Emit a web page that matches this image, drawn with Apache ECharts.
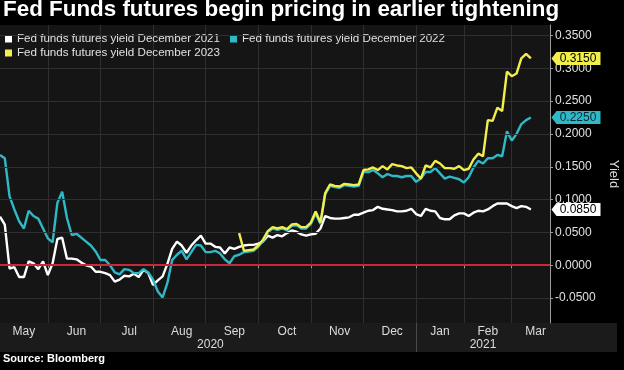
<!DOCTYPE html>
<html>
<head>
<meta charset="utf-8">
<script src="https://cdn.jsdelivr.net/npm/echarts@6/dist/echarts.min.js"></script>
<style>
html,body{margin:0;padding:0;background:#000;}
#chart{width:624px;height:370px;}
</style>
</head>
<body>
<div id="chart"></div>
<script>
// ---- data ----
const titleText = 'Fed Funds futures begin pricing in earlier tightening';
const seriesNames = [
  'Fed funds futures yield December 2021',
  'Fed funds futures yield December 2022',
  'Fed funds futures yield December 2023'
];
const months = ['May','Jun','Jul','Aug','Sep','Oct','Nov','Dec','Jan','Feb','Mar'];
const samplesPerMonth = [10,11,11,11,11,11,11,11,10,10,9];
const yearLabels = ['2020','2021'];
const yearFirstMonth = ['May','Jan'];
const yTicks = [-0.05, 0, 0.05, 0.10, 0.15, 0.20, 0.25, 0.30, 0.35];

const dec2021 = [0.074,0.062,-0.005,-0.003,-0.018,-0.018,0.006,0.003,-0.006,0.006,
 -0.015,0.003,0.040,0.042,0.010,0.010,0.009,0.004,0.000,-0.002,
 -0.010,-0.010,-0.012,-0.015,-0.025,-0.022,-0.016,-0.017,-0.013,-0.018,
 -0.007,-0.012,-0.030,-0.023,-0.017,0.002,0.025,0.036,0.030,0.019,
 0.030,0.038,0.045,0.033,0.033,0.028,0.027,0.018,0.027,0.025,
 0.028,0.030,0.031,0.031,0.033,0.036,0.045,0.042,0.046,0.044,
 0.049,0.053,0.051,0.047,0.045,0.047,0.048,0.056,0.075,0.072,
 0.071,0.071,0.072,0.073,0.077,0.077,0.080,0.083,0.084,0.089,
 0.086,0.085,0.084,0.082,0.082,0.083,0.086,0.078,0.075,0.086,
 0.083,0.082,0.072,0.070,0.070,0.076,0.079,0.079,0.075,0.080,
 0.083,0.082,0.085,0.090,0.094,0.094,0.094,0.090,0.087,0.090,
 0.089,0.085];
const dec2022 = [0.168,0.163,0.105,0.085,0.067,0.056,0.083,0.075,0.071,0.056,
 0.041,0.035,0.095,0.112,0.072,0.046,0.048,0.042,0.036,0.030,
 0.021,0.008,0.008,0.000,-0.011,-0.014,-0.006,-0.007,-0.012,-0.012,
 -0.006,-0.011,-0.022,-0.040,-0.049,-0.027,0.008,0.016,0.022,0.009,
 0.020,0.031,0.030,0.020,0.020,0.022,0.018,0.009,0.003,0.014,
 0.016,0.020,0.021,0.022,0.028,0.037,0.050,0.056,0.054,0.056,
 0.053,0.060,0.061,0.056,0.056,0.063,0.079,0.063,0.108,0.121,
 0.119,0.118,0.122,0.121,0.120,0.121,0.142,0.142,0.145,0.140,
 0.134,0.139,0.136,0.136,0.134,0.136,0.136,0.127,0.132,0.142,
 0.142,0.148,0.140,0.132,0.135,0.133,0.131,0.126,0.134,0.149,
 0.159,0.155,0.163,0.163,0.168,0.166,0.204,0.190,0.200,0.215,
 0.221,0.225];
const dec2023Start = 'Sep 8';
const dec2023 = [0.049,0.022,0.023,0.024,0.030,0.039,0.052,0.058,0.056,0.058,
 0.055,0.062,0.063,0.058,0.058,0.065,0.082,0.065,0.110,0.123,
 0.121,0.120,0.124,0.123,0.122,0.123,0.145,0.146,0.149,0.145,
 0.151,0.146,0.154,0.152,0.151,0.148,0.149,0.140,0.132,0.152,
 0.149,0.159,0.155,0.148,0.148,0.147,0.151,0.145,0.147,0.161,
 0.170,0.166,0.221,0.220,0.240,0.235,0.295,0.288,0.292,0.315,
 0.322,0.315];

// ---- derived axis helpers ----
const categories = [];
const monthStart = [];
const monthLabelIdx = [];
months.forEach((m, mi) => {
  monthStart.push(categories.length);
  monthLabelIdx.push(categories.length + Math.round(samplesPerMonth[mi] / 2));
  for (let k = 0; k < samplesPerMonth[mi]; k++) categories.push(m + ' ' + (k + 1));
});
const lastIdx = categories.length - 1;
const yearStartIdx = yearFirstMonth.map(m => monthStart[months.indexOf(m)]);
const yearCenterIdx = yearStartIdx.map((s, i) => {
  const e = i + 1 < yearStartIdx.length ? yearStartIdx[i + 1] : lastIdx;
  return Math.round((s + e) / 2);
});
const yearDivider = yearStartIdx.slice(1);
const start2023 = categories.indexOf(dec2023Start);
const dec2023Data = dec2023.map((v, k) => [start2023 + k, v]);

const colors = ['#ffffff', '#2fb9c6', '#f2ee4c'];
const tagTextColors = ['#000000', '#0b2a33', '#000000'];
const FONT = 'Liberation Sans';
const tagPath = 'path://M0,6.5 L5,0 L49,0 L49,13 L5,13 Z';

function tag(i, val) {
  return {
    symbol: tagPath,
    symbolSize: [49, 13],
    symbolKeepAspect: false,
    symbolOffset: [26, 0],
    silent: true,
    itemStyle: { color: colors[i] },
    label: {
      show: true, position: 'inside', offset: [2, 0],
      color: tagTextColors[i], fontSize: 12, fontFamily: FONT,
      formatter: () => val.toFixed(4)
    },
    data: [{ coord: [lastIdx, val], value: val }]
  };
}

function lineSeries(i, data, lastVal) {
  return {
    name: seriesNames[i], type: 'line', data: data,
    showSymbol: false, symbol: 'none', clip: false, z: 3 + i,
    lineStyle: { color: colors[i], width: 2.4 },
    itemStyle: { color: colors[i] },
    emphasis: { disabled: true },
    markPoint: tag(i, lastVal)
  };
}

const chart = echarts.init(document.getElementById('chart'), null, { renderer: 'canvas' });
chart.setOption({
  animation: false,
  backgroundColor: '#000000',
  textStyle: { fontFamily: FONT },
  title: {
    text: titleText, left: 3, top: -1, padding: 0,
    textStyle: { color: '#ffffff', fontSize: 22.4, fontWeight: 'bold', fontFamily: FONT }
  },
  legend: [
    {
      data: [seriesNames[0], seriesNames[1]], left: 5, top: 33, padding: 0,
      itemWidth: 7, itemHeight: 7, itemGap: 10, icon: 'rect', selectedMode: false,
      textStyle: { color: '#e0e0e0', fontSize: 11.6, fontFamily: FONT }
    },
    {
      data: [seriesNames[2]], left: 5, top: 47, padding: 0,
      itemWidth: 7, itemHeight: 7, itemGap: 10, icon: 'rect', selectedMode: false,
      textStyle: { color: '#e0e0e0', fontSize: 11.6, fontFamily: FONT }
    }
  ],
  grid: {
    left: 0, right: 74, top: 25, bottom: 47, containLabel: false, outerBoundsMode: 'none',
    show: true, backgroundColor: '#151515', borderWidth: 0
  },
  graphic: [
    { type: 'rect', left: 0, top: 323, z: -5, silent: true,
      shape: { width: 617, height: 29 }, style: { fill: '#1b1b1b' } },
    { type: 'text', left: 3, top: 353, silent: true,
      style: { text: 'Source: Bloomberg', fill: '#ffffff', font: 'bold 11px "Liberation Sans"' } }
  ],
  xAxis: [
    {
      type: 'category', data: categories, boundaryGap: false,
      axisLine: { show: true, lineStyle: { color: '#9a9a9a', width: 1 } },
      axisTick: { show: true, length: 3, interval: (i) => monthStart.indexOf(i) > 0,
        lineStyle: { color: '#9a9a9a' } },
      axisLabel: { show: true, interval: (i) => monthLabelIdx.indexOf(i) >= 0,
        formatter: (v) => v.split(' ')[0], color: '#dcdcdc', fontSize: 12, fontFamily: FONT, margin: 3 },
      splitLine: { show: true, interval: (i) => monthStart.indexOf(i) > 0,
        lineStyle: { color: '#2f2f2f', width: 1 } }
    },
    {
      type: 'category', data: categories, boundaryGap: false, position: 'bottom',
      axisLine: { show: false },
      axisTick: { show: true, length: 29, interval: (i) => yearDivider.indexOf(i) >= 0,
        lineStyle: { color: '#4a4a4a' } },
      axisLabel: { show: true, interval: (i) => yearCenterIdx.indexOf(i) >= 0,
        formatter: (v, i) => yearLabels[yearCenterIdx.indexOf(i)] || '',
        color: '#dcdcdc', fontSize: 12, fontFamily: FONT, margin: 16 },
      splitLine: { show: false }
    }
  ],
  yAxis: {
    type: 'value', position: 'right', min: -0.088, max: 0.366,
    axisLine: { show: true, lineStyle: { color: '#9a9a9a' } },
    axisTick: { show: true, length: 3, customValues: yTicks, lineStyle: { color: '#9a9a9a' } },
    axisLabel: { show: true, customValues: yTicks, formatter: (v) => v.toFixed(4),
      color: '#e0e0e0', fontSize: 12, fontFamily: FONT, margin: 5 },
    splitLine: { show: false },
    name: 'Yield', nameLocation: 'middle', nameGap: 55, nameRotate: -90,
    nameTextStyle: { color: '#dcdcdc', fontSize: 13, fontFamily: FONT }
  },
  series: [
    {
      type: 'line', data: [], z: 1, silent: true, clip: false,
      markLine: {
        silent: true, symbol: 'none', animation: false,
        label: { show: false },
        lineStyle: { color: '#2f2f2f', width: 1, type: 'solid' },
        data: yTicks.filter(v => v !== 0).map(v => ({ yAxis: v }))
      }
    },
    lineSeries(0, dec2021, dec2021[dec2021.length - 1]),
    lineSeries(1, dec2022, dec2022[dec2022.length - 1]),
    lineSeries(2, dec2023Data, dec2023[dec2023.length - 1]),
    {
      type: 'line', data: [], z: 10, silent: true, clip: false,
      markLine: {
        silent: true, symbol: 'none', animation: false,
        label: { show: false },
        lineStyle: { color: '#c8283a', width: 2, type: 'solid' },
        data: [{ yAxis: 0 }]
      }
    }
  ]
});
</script>
</body>
</html>
